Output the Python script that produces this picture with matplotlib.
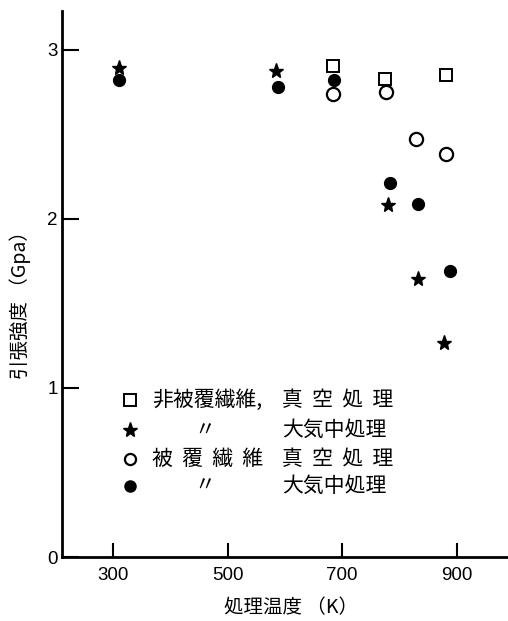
import matplotlib
matplotlib.use("Agg")
import matplotlib.pyplot as plt

plt.rcParams['font.family'] = ['Noto Sans CJK JP', 'DejaVu Sans']

# Data (treatment temperature K, tensile strength GPa)
sq_x = [684, 775, 882]           # 非被覆繊維, 真空処理
sq_y = [2.905, 2.83, 2.85]
st_x = [309, 585, 780, 832, 878]  # 非被覆繊維, 大気中処理
st_y = [2.89, 2.875, 2.08, 1.645, 1.265]
oc_x = [684, 777, 829, 882]       # 被覆繊維, 真空処理
oc_y = [2.74, 2.75, 2.47, 2.385]
fc_x = [309, 588, 686, 784, 832, 889]  # 被覆繊維, 大気中処理
fc_y = [2.82, 2.78, 2.82, 2.21, 2.09, 1.69]

xticks = [300, 500, 700, 900]
yticks = [0, 1, 2, 3]

leg_left = ["非被覆繊維,", "〃", "被  覆  繊  維", "〃"]
leg_right = ["真  空  処  理", "大気中処理", "真  空  処  理", "大気中処理"]

fig = plt.figure(figsize=(5.08, 6.21), dpi=100)
ax = fig.add_axes([62/508, 1 - 557/621, (508 - 62)/508, (557 - 11)/621])

ax.plot(sq_x, sq_y, ls='none', marker='s', ms=8, mfc='white', mec='black', mew=1.4)
ax.plot(st_x, st_y, ls='none', marker='*', ms=11, mfc='black', mec='black')
ax.plot(oc_x, oc_y, ls='none', marker='o', ms=9.5, mfc='white', mec='black', mew=1.6)
ax.plot(fc_x, fc_y, ls='none', marker='o', ms=8.5, mfc='black', mec='black')

ax.set_xlim(210, 990)
ax.set_ylim(0, 3.23)
ax.set_xticks(xticks)
ax.set_yticks(yticks)
ax.tick_params(direction='in', length=10, width=1.5, labelsize=13.5)
ax.tick_params(axis='y', pad=3, length=12)
ax.tick_params(axis='x', pad=7)
for lab in ax.get_xticklabels() + ax.get_yticklabels():
    lab.set_family(['Liberation Sans', 'DejaVu Sans'])
ax.spines['top'].set_visible(False)
ax.spines['right'].set_visible(False)
ax.spines['left'].set_linewidth(2)
ax.spines['bottom'].set_linewidth(2)

# legend drawn manually
markers = [dict(marker='s', ms=8, mfc='white', mec='black', mew=1.4),
           dict(marker='*', ms=11, mfc='black', mec='black'),
           dict(marker='o', ms=8, mfc='white', mec='black', mew=1.6),
           dict(marker='o', ms=8, mfc='black', mec='black')]
leg_y = [0.93, 0.75, 0.58, 0.42]
for i in range(4):
    ax.plot([329], [leg_y[i]], ls='none', **markers[i])
    if leg_left[i] == "〃":
        ax.text(460, leg_y[i], leg_left[i], fontsize=15, va='center', ha='center')
    else:
        ax.text(367, leg_y[i], leg_left[i], fontsize=15, va='center', ha='left')
    ax.text(595, leg_y[i], leg_right[i], fontsize=15, va='center', ha='left')

fig.text(291/508, 1 - 608/621, "処理温度 （K）", fontsize=14, ha='center', va='center')
fig.text(20/508, 1 - 300/621, "引張強度 （Gpa）", fontsize=14, ha='center', va='center', rotation=90)

fig.savefig("out.png", dpi=100, facecolor='white')
